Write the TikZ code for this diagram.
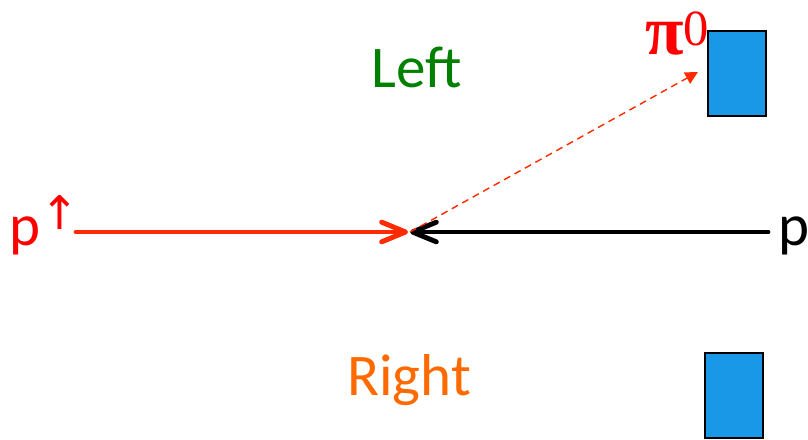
\documentclass[tikz,border=0pt]{standalone}
\usepackage{fontspec}
\setmainfont{Carlito}
\newfontfamily\greekfont{Liberation Serif}
\newfontfamily\arrowfont{DejaVu Sans}
\usetikzlibrary{arrows.meta}
\definecolor{detblue}{HTML}{1A98E8}
\definecolor{beamred}{HTML}{FF2A00}
\definecolor{leftgreen}{HTML}{008000}
\definecolor{rightorange}{HTML}{FF6A00}
\begin{document}
\begin{tikzpicture}[x=0.025cm, y=-0.025cm,
    detector/.style={draw=black, line width=1.4pt, fill=detblue, inner sep=0pt,
      minimum width=41.5pt, minimum height=60.5pt, anchor=north west},
    beam/.style={line width=3.5pt, line cap=round,
      -{Straight Barb[length=17pt, width=14pt, line width=3.5pt, round]}},
    label/.style={inner sep=0pt, anchor=base, font=\fontsize{42}{42}\selectfont}]
    \useasboundingbox (0,0) rectangle (808,440);
    % Detectors
    \node[detector] (boxL) at (707,30)  {};
    \node[detector] (boxR) at (704,352) {};
    % Side labels
    \node[label, text=leftgreen]   (left)  at (417,88)  {Left};
    \node[label, text=rightorange] (right) at (409,395) {Right};
    % Beam labels
    \node[label, text=red, anchor=base west] (pol) at (9,245)
      {p\raisebox{11pt}{\arrowfont\fontsize{33}{33}\selectfont ↑}};
    \node[label, anchor=base west] (pbeam) at (778,245) {p};
    \node[inner sep=0pt, anchor=base west, text=red] (pion) at (645,55)
      {\greekfont\fontsize{50}{50}\selectfont\textbf{π}\raisebox{7pt}{\fontsize{36}{36}\selectfont 0}};
    % Beam ends and vertex
    \coordinate (redstart) at (76,232);
    \coordinate (blackstart) at (768,232);
    \coordinate (vtx) at (408,232);
    \coordinate (vtxb) at (410,232);
    \coordinate (pitip) at (698,72);
    % Beams
    \draw[beam, beamred] (redstart) -- (vtx);
    \draw[beam, black] (blackstart) -- (vtxb);
    % Outgoing pion
    \draw[beamred, line width=1pt, dash pattern=on 5pt off 3.5pt,
      -{Triangle[length=9pt, width=9pt]}] (vtxb) -- (pitip);
  \end{tikzpicture}
\end{document}
